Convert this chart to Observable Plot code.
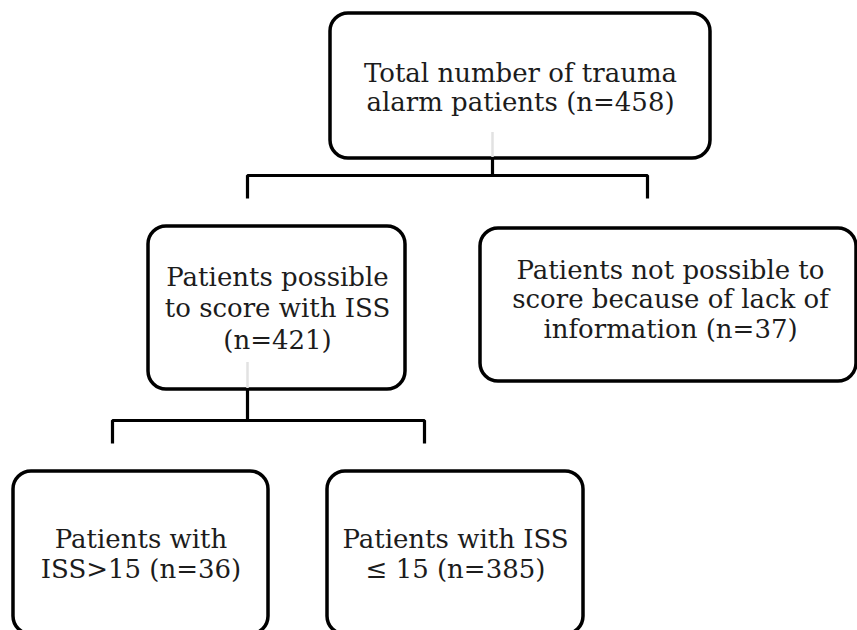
<!DOCTYPE html>
<html>
<head>
<meta charset="utf-8">
<script src="https://cdn.jsdelivr.net/npm/d3@7"></script>
<script src="https://cdn.jsdelivr.net/npm/@observablehq/plot@0.6"></script>
<style>
  html, body { margin: 0; padding: 0; background: #fff; }
  #chart svg { display: block; }
</style>
</head>
<body>
<div id="chart"></div>
<script>
// ---- Chart content (values) ----
const boxIds    = ["total", "scored", "unscored", "severe", "minor"];
const boxText   = [
  "Total number of trauma\nalarm patients",
  "Patients possible\nto score with ISS",
  "Patients not possible to\nscore because of lack of\ninformation",
  "Patients with\nISS>15",
  "Patients with ISS\n≤ 15"
];
const boxSep    = [" ", "\n", " ", " ", " "];
const boxCounts = [458, 421, 37, 36, 385];
const parentOf  = [null, "total", "total", "scored", "scored"];

// ---- Layout (pixel positions in the 857x630 canvas) ----
const boxLayout = [
  {x1: 330, x2: 710, y1: 13,  y2: 158, tx: 520,   ty: 110, lh: 29},
  {x1: 148, x2: 405, y1: 226, y2: 389, tx: 277,   ty: 348, lh: 31.5},
  {x1: 480, x2: 856, y1: 228, y2: 381, tx: 670,   ty: 337, lh: 29.5},
  {x1: 13,  x2: 268, y1: 471, y2: 634, tx: 140.5, ty: 577, lh: 30},
  {x1: 327, x2: 583, y1: 471, y2: 634, tx: 455,   ty: 577, lh: 30}
];
const linkLayout = [
  {from: "total",  stemX: 492, barY: 175, drops: [247, 647], dropEnd: 198},
  {from: "scored", stemX: 247, barY: 420, drops: [112, 424], dropEnd: 443}
];
// faint grey marks visible inside two boxes of the original scan
const ghostLayout = [
  {x: 492, y1: 132, y2: 157},
  {x: 247, y1: 362, y2: 388}
];

const W = 857, H = 630, FONT = 26;

const boxes = boxIds.map((id, i) => ({
  id,
  parent: parentOf[i],
  label: boxText[i] + boxSep[i] + `(n=${boxCounts[i]})`,
  ...boxLayout[i]
}));

const segs = [];
linkLayout.forEach((l, k) => {
  const p = boxes.find(b => b.id === l.from);
  segs.push({g: `stem${k}`, x: l.stemX, y: p.y2}, {g: `stem${k}`, x: l.stemX, y: l.barY});
  segs.push(
    {g: `bar${k}`, x: l.drops[0], y: l.dropEnd},
    {g: `bar${k}`, x: l.drops[0], y: l.barY},
    {g: `bar${k}`, x: l.drops[1], y: l.barY},
    {g: `bar${k}`, x: l.drops[1], y: l.dropEnd}
  );
});

const chart = Plot.plot({
  width: W,
  height: H,
  margin: 0,
  style: {background: "white", overflow: "hidden"},
  x: {domain: [0, W], range: [0, W], axis: null},
  y: {domain: [0, H], range: [0, H], axis: null},
  marks: [
    Plot.rect(boxes, {
      x1: "x1", x2: "x2", y1: "y1", y2: "y2",
      rx: 18, fill: "white", stroke: "black", strokeWidth: 3.5
    }),
    Plot.ruleX(ghostLayout, {x: "x", y1: "y1", y2: "y2", stroke: "#e2e2e2", strokeWidth: 2.5}),
    Plot.line(segs, {
      x: "x", y: "y", z: "g",
      stroke: "black", strokeWidth: 3.2,
      strokeLinejoin: "miter", strokeLinecap: "butt"
    }),
    ...boxes.map(b => Plot.text([b], {
      x: "tx", y: "ty", text: "label",
      lineAnchor: "bottom",
      lineHeight: b.lh / FONT,
      fontFamily: "DejaVu Serif",
      fontSize: FONT,
      fill: "#1c1c1c",
      textAnchor: "middle"
    }))
  ]
});

document.getElementById("chart").appendChild(chart);
</script>
</body>
</html>
